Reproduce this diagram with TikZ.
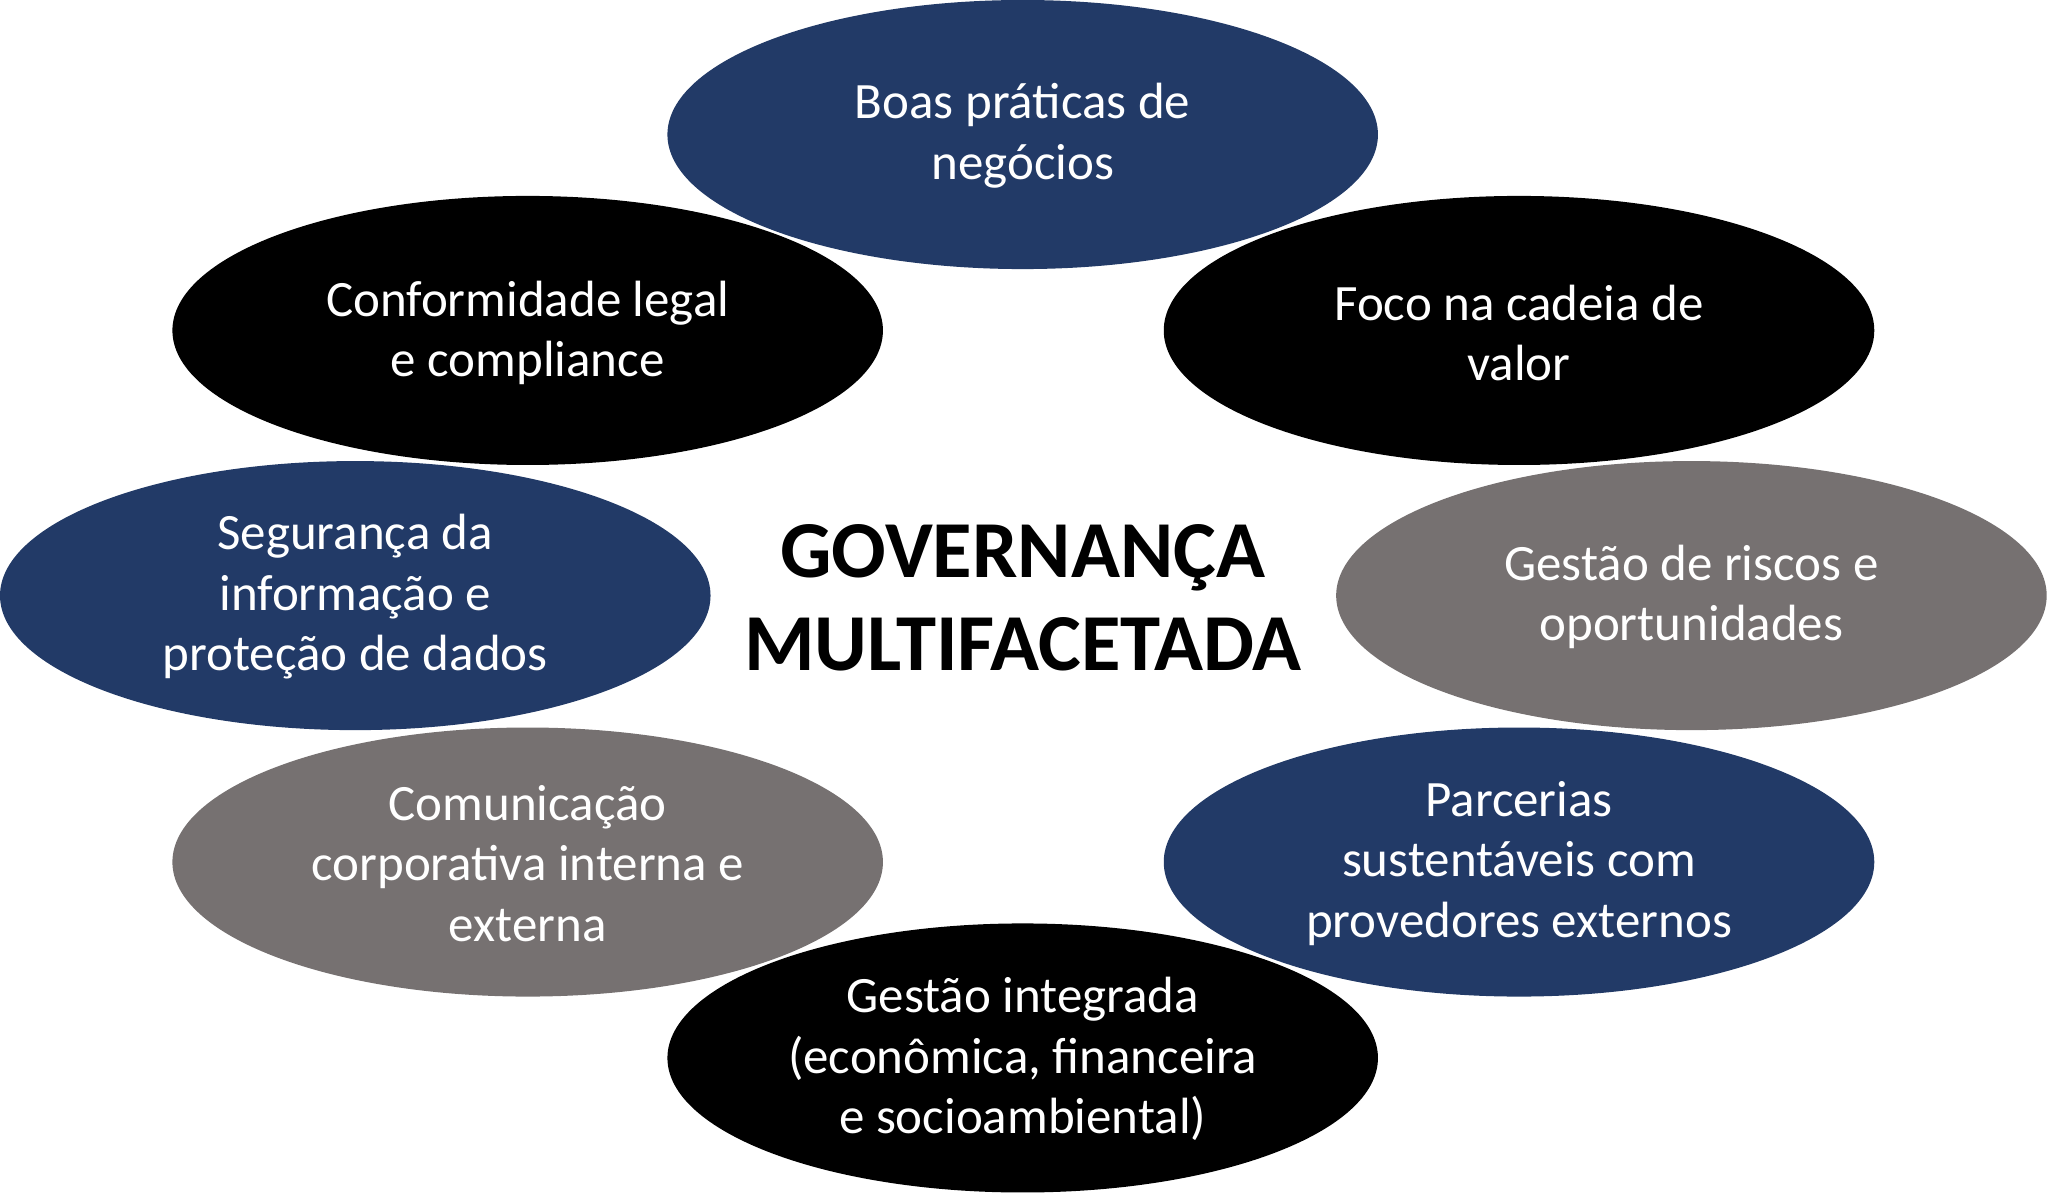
\documentclass[tikz,border=0pt]{standalone}
\usepackage{fontspec}
\setmainfont{Carlito}
\usetikzlibrary{shapes.geometric}
\definecolor{navy}{HTML}{223A67}
\definecolor{gr}{HTML}{767171}
\begin{document}
\begin{tikzpicture}[x=0.01306cm,y=-0.01306cm,
 el/.style={ellipse,minimum width=544\pgflinewidth,inner sep=0pt,text=white,align=center,
   font=\fontsize{14}{17}\selectfont},
 ov/.style={draw=none}]
\useasboundingbox (0,0) rectangle (1568,914);
\tikzset{blob/.style={}}
\newcommand\myel[4]{\fill[#3] (#1,#2) ellipse [x radius=272, y radius=103];}
\myel{783}{103}{navy}{}
\node (a) at (783,103) [el] {};
\myel{404}{253}{black}{}
\myel{1163}{253}{black}{}
\myel{272}{456}{navy}{}
\myel{1295}{456}{gr}{}
\myel{404}{660}{gr}{}
\myel{1163}{660}{navy}{}
\myel{783}{810}{black}{}
\tikzset{t/.style={text=white,align=center,font=\fontsize{14.5}{17.2}\selectfont}}
\node[t] (n1) at (783,104) {Boas práticas de\\negócios};
\node[t] (n2) at (404,255) {Conformidade legal\\e compliance};
\node[t] (n3) at (1163,255) {Foco na cadeia de\\valor};
\node[t] (n4) at (272,457) {Segurança da\\informação e\\proteção de dados};
\node[t] (n5) at (1295,457) {Gestão de riscos e\\oportunidades};
\node[t] (n6) at (404,661) {Comunicação\\corporativa interna e\\externa};
\node[t] (n7) at (1163,661) {Parcerias\\sustentáveis com\\provedores externos};
\node[t] (n8) at (783,811) {Gestão integrada\\(econômica, financeira\\e socioambiental)};
\node[align=center,font=\bfseries\fontsize{23}{26.5}\selectfont] (c) at (783,458) {GOVERNANÇA\\MULTIFACETADA};
\end{tikzpicture}
\end{document}
